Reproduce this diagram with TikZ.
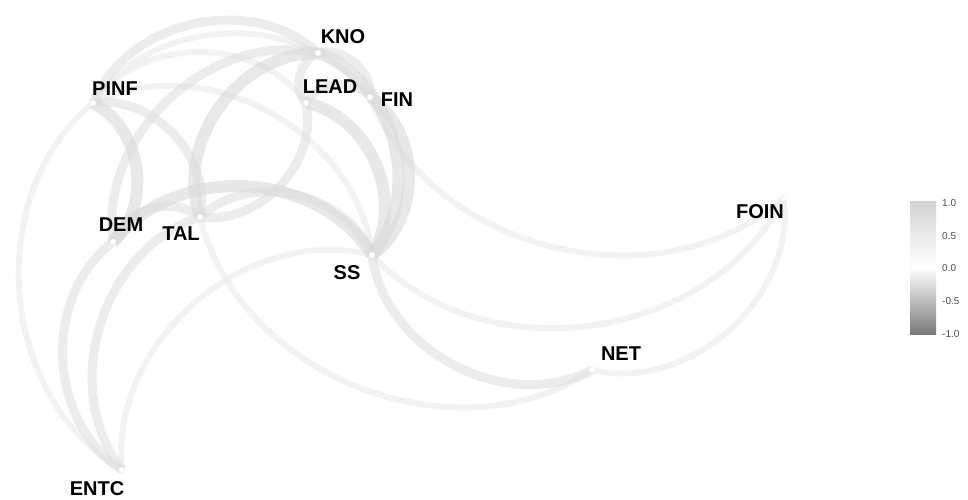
\documentclass[tikz,border=0pt]{standalone}
\usepackage{fontspec}
\setmainfont{Liberation Sans}
\begin{document}
\begin{tikzpicture}[x=1pt,y=-1pt,
  ethick/.style={draw=black!14,draw opacity=0.65,line width=12pt},
  emed/.style={draw=black!12,draw opacity=0.62,line width=9pt},
  efaint/.style={draw=black!7,draw opacity=0.7,line width=6pt},
  dot/.style={circle,fill=white,draw=black!6,line width=0.4pt,inner sep=0pt,minimum size=6pt},
  lab/.style={font=\fontsize{20}{22}\selectfont\bfseries,text=black,inner sep=0pt},
  tick/.style={font=\fontsize{10}{11}\selectfont,text=black!70,anchor=west,inner sep=0pt},
  bl/.style={bend left=55},
  br/.style={bend right=55}]
\useasboundingbox (0,0) rectangle (968,499);
% node positions
\coordinate (pinf) at (93,103);
\coordinate (kno)  at (318,53);
\coordinate (lead) at (306,103);
\coordinate (fin)  at (370,97);
\coordinate (dem)  at (113,242);
\coordinate (tal)  at (200,217);
\coordinate (ss)   at (372,255);
\coordinate (foin) at (784,198);
\coordinate (net)  at (592,370);
\coordinate (entc) at (122,470);
% faint edges
\draw[efaint] (pinf) to[br] (entc);
\draw[efaint] (pinf) to[bl] (lead);
\draw[efaint] (pinf) to[bl] (fin);
\draw[efaint] (pinf) to[bl] (ss);
\draw[efaint] (entc) to[bl] (ss);
\draw[efaint] (tal) to[br] (net);
\draw[efaint] (fin) to[br] (foin);
\draw[efaint] (ss) to[br] (foin);
\draw[efaint] (net) to[br] (foin);
% medium edges
\draw[emed] (pinf) to[bl] (kno);
\draw[emed] (kno) to[br] (dem);
\draw[emed] (pinf) to[bl] (tal);
\draw[emed] (lead) to[bl] (tal);
\draw[emed] (tal) to[bl] (ss);
\draw[emed] (dem) to[bl] (tal);
\draw[emed] (kno) to[bl] (fin);
\draw[emed] (kno) to[br] (lead);
\draw[emed] (lead) to[bl] (fin);
\draw[emed] (dem) to[br] (entc);
\draw[emed] (tal) to[br] (entc);
\draw[emed] (ss) to[br] (net);
% thick edges
\draw[ethick] (pinf) to[bl] (dem);
\draw[ethick] (kno) to[br] (tal);
\draw[ethick] (dem) to[bl] (ss);
\draw[ethick] (lead) to[bl] (ss);
\draw[ethick] (kno) to[bl] (ss);
\draw[ethick] (fin) to[bl] (ss);
% points
\foreach \n in {pinf,kno,lead,fin,dem,tal,ss,foin,net,entc}
  \node[dot] (\n dot) at (\n) {};
% labels
\node[lab] (lpinf) at (115,89) {PINF};
\node[lab] (lkno)  at (343,37) {KNO};
\node[lab] (llead) at (330,87) {LEAD};
\node[lab] (lfin)  at (397,100) {FIN};
\node[lab] (ldem)  at (121,225) {DEM};
\node[lab] (ltal)  at (181,234) {TAL};
\node[lab] (lss)   at (347,273) {SS};
\node[lab] (lnet)  at (621,354) {NET};
\node[lab] (lfoin) at (760,212) {FOIN};
\node[lab] (lentc) at (97,489) {ENTC};
% legend
\shade[top color=black!17,bottom color=white] (910,201) rectangle (936,268);
\shade[top color=white,bottom color=black!52] (910,267.5) rectangle (936,334);
\node[tick] (t1) at (942,203) {1.0};
\node[tick] (t2) at (942,236) {0.5};
\node[tick] (t3) at (942,268) {0.0};
\node[tick] (t4) at (942,301) {-0.5};
\node[tick] (t5) at (942,334) {-1.0};
\end{tikzpicture}
\end{document}
